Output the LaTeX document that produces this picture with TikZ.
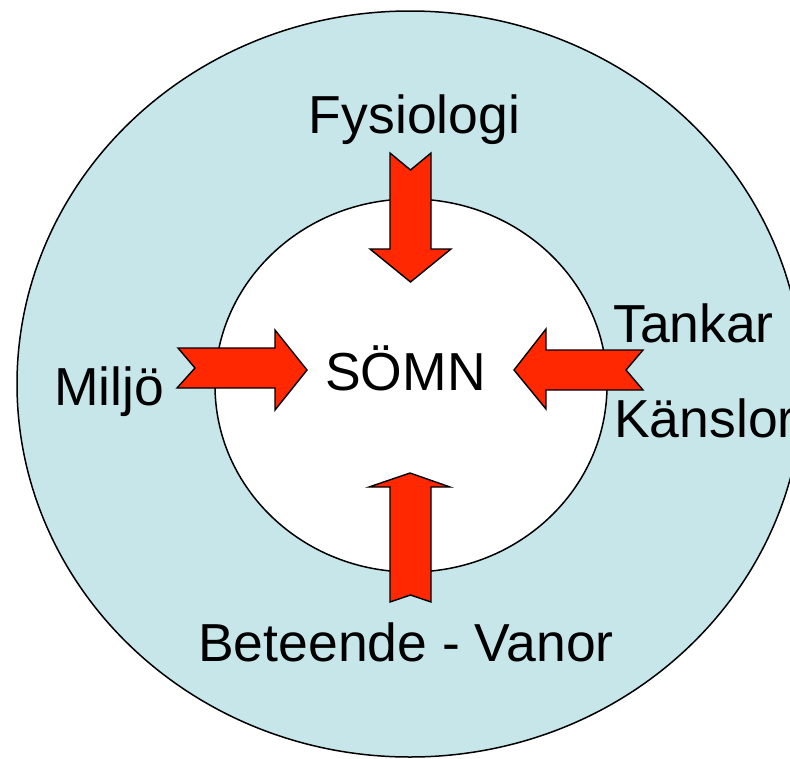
\documentclass[tikz,border=0pt]{standalone}
\usepackage{fontspec}
\setmainfont{Liberation Sans}
\definecolor{ringblue}{RGB}{198,230,234}
\definecolor{arrowred}{RGB}{255,40,0}
\begin{document}
\begin{tikzpicture}[x=1pt,y=-1pt,
  ring/.style={draw=black,line width=1.5pt},
  fatarrow/.style={draw=black,fill=arrowred,line width=1.4pt,line join=miter},
  label/.style={font=\fontsize{53.5}{60}\selectfont,inner sep=0pt,text=black}]
\useasboundingbox (0,0) rectangle (790,758);
% outer ring and inner disc
\draw[ring,fill=ringblue] (410,384) ellipse [x radius=393, y radius=373];
\draw[ring,fill=white] (411,385.5) ellipse [x radius=196, y radius=186.5];
% four block arrows pointing to the centre
\draw[fatarrow] (390,153) -- (410.5,170) -- (431,153) -- (431,249) -- (451,249)
  -- (410.5,282) -- (370,249) -- (390,249) -- cycle;
\draw[fatarrow] (410,473) -- (450,487) -- (431,487) -- (431,602) -- (410.5,595)
  -- (390,602) -- (390,487) -- (369,487) -- cycle;
\draw[fatarrow] (178,348) -- (275,348) -- (275,330) -- (307,370) -- (275,410)
  -- (275,388) -- (177,388) -- (195,368) -- cycle;
\draw[fatarrow] (514,370) -- (546,329) -- (546,350) -- (643,350) -- (626,370)
  -- (643,390) -- (546,390) -- (546,409) -- cycle;
% labels
\node[label,anchor=base] (fys) at (414.5,133) {Fysiologi};
\node[label,anchor=base] (som) at (405.5,390) {SÖMN};
\node[label,anchor=base west] (mil) at (54,405) {Miljö};
\node[label,anchor=base west] (tan) at (613,342) {Tankar};
\node[label,anchor=base west] (kan) at (614,437) {Känslor};
\node[label,anchor=base] (bet) at (406,661) {Beteende - Vanor};
\end{tikzpicture}
\end{document}
